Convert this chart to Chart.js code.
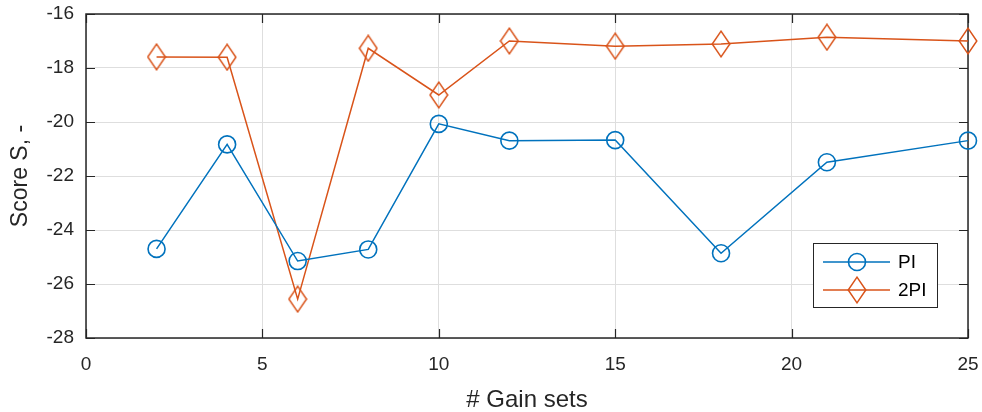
<!DOCTYPE html>
<html>
<head>
<meta charset="utf-8">
<script src="https://cdn.jsdelivr.net/npm/chart.js@4"></script>
<style>
  html, body { margin: 0; padding: 0; background: #ffffff; }
  canvas { display: block; }
</style>
</head>
<body>
<canvas id="c" width="982" height="412"></canvas>
<script>
// ---- data ----
const gainSets = [2, 4, 6, 8, 10, 12, 15, 18, 21, 25];
const scorePI = [-24.70, -20.83, -25.15, -24.72, -20.07, -20.69, -20.67, -24.86, -21.49, -20.69];
const score2PI = [-17.59, -17.60, -26.56, -17.27, -19.00, -17.00, -17.19, -17.11, -16.86, -17.00];
const seriesNames = ['PI', '2PI'];
const xTicks = [0, 5, 10, 15, 20, 25];
const yTicks = [-28, -26, -24, -22, -20, -18, -16];

const BLUE = '#0072BD';
const ORANGE = '#D95319';
const AXIS = '#262626';
const GRID = '#dedede';
const FONT = '"Liberation Sans", Arial, Helvetica, sans-serif';

function makeDiamond(color) {
  const cv = document.createElement('canvas');
  cv.width = 20; cv.height = 28;
  const g = cv.getContext('2d');
  g.strokeStyle = color;
  g.lineWidth = 1.5;
  g.beginPath();
  g.moveTo(10, 1.2);
  g.lineTo(18.8, 14);
  g.lineTo(10, 26.8);
  g.lineTo(1.2, 14);
  g.closePath();
  g.stroke();
  return cv;
}
const diamond = makeDiamond(ORANGE);

function zeroPad(s) {
  s.paddingTop = 0; s.paddingBottom = 0; s.paddingLeft = 0; s.paddingRight = 0;
}

const boxPlugin = {
  id: 'matlabBox',
  beforeDatasetsDraw(chart) {
    const {ctx, chartArea: a, scales} = chart;
    ctx.save();
    ctx.strokeStyle = AXIS;
    ctx.lineWidth = 1.2;
    const tl = 9;
    ctx.beginPath();
    scales.x.ticks.forEach(t => {
      const px = Math.round(scales.x.getPixelForValue(t.value)) + 0.5;
      ctx.moveTo(px, a.bottom); ctx.lineTo(px, a.bottom - tl);
      ctx.moveTo(px, a.top); ctx.lineTo(px, a.top + tl);
    });
    scales.y.ticks.forEach(t => {
      const py = Math.round(scales.y.getPixelForValue(t.value)) + 0.5;
      ctx.moveTo(a.left, py); ctx.lineTo(a.left + tl, py);
      ctx.moveTo(a.right, py); ctx.lineTo(a.right - tl, py);
    });
    ctx.stroke();
    ctx.lineWidth = 1.5;
    ctx.strokeRect(a.left, a.top, a.right - a.left, a.bottom - a.top);
    ctx.restore();
  },
  afterDraw(chart) {
    const {ctx, chartArea: a} = chart;
    const w = 124, h = 64;
    const x0 = a.right - 31 - w, y0 = a.bottom - 31 - h;
    ctx.save();
    ctx.fillStyle = '#ffffff';
    ctx.fillRect(x0, y0, w, h);
    ctx.strokeStyle = AXIS;
    ctx.lineWidth = 1;
    ctx.strokeRect(x0 + 0.5, y0 + 0.5, w, h);
    const rows = [y0 + 19, y0 + 47];
    chart.data.datasets.forEach((ds, i) => {
      const y = rows[i];
      ctx.strokeStyle = ds.borderColor;
      ctx.lineWidth = ds.borderWidth;
      ctx.beginPath();
      ctx.moveTo(x0 + 10, y); ctx.lineTo(x0 + 77, y);
      ctx.stroke();
      const mx = x0 + 44;
      if (ds.pointStyle === 'circle') {
        ctx.lineWidth = 1.6;
        ctx.beginPath();
        ctx.arc(mx, y, ds.pointRadius, 0, Math.PI * 2);
        ctx.stroke();
      } else {
        ctx.drawImage(ds.pointStyle, mx - ds.pointStyle.width / 2, y - ds.pointStyle.height / 2);
      }
      ctx.fillStyle = '#000000';
      ctx.font = '19px ' + FONT;
      ctx.textBaseline = 'middle';
      ctx.textAlign = 'left';
      ctx.fillText(ds.label, x0 + 85, y + 1);
    });
    ctx.restore();
  }
};

new Chart(document.getElementById('c'), {
  type: 'line',
  data: {
    datasets: [
      {
        label: seriesNames[0],
        data: gainSets.map((x, i) => ({x: x, y: scorePI[i]})),
        borderColor: BLUE,
        borderWidth: 1.5,
        pointStyle: 'circle',
        pointRadius: 8.5,
        pointHoverRadius: 8.5,
        pointBorderWidth: 1.6,
        pointBorderColor: BLUE,
        pointBackgroundColor: 'rgba(0,0,0,0)',
        fill: false,
        tension: 0,
        clip: false
      },
      {
        label: seriesNames[1],
        data: gainSets.map((x, i) => ({x: x, y: score2PI[i]})),
        borderColor: ORANGE,
        borderWidth: 1.5,
        pointStyle: diamond,
        pointRadius: 10,
        pointHoverRadius: 10,
        pointBorderColor: ORANGE,
        pointBackgroundColor: 'rgba(0,0,0,0)',
        fill: false,
        tension: 0,
        clip: false
      }
    ]
  },
  options: {
    responsive: false,
    animation: false,
    events: [],
    layout: { padding: { top: 14, right: 14, left: 0, bottom: 0 } },
    plugins: {
      legend: { display: false },
      tooltip: { enabled: false }
    },
    scales: {
      x: {
        type: 'linear',
        min: xTicks[0],
        max: xTicks[xTicks.length - 1],
        afterBuildTicks: s => { s.ticks = xTicks.map(v => ({value: v})); },
        afterFit: s => { s.height = 74; zeroPad(s); },
        grid: { color: GRID, lineWidth: 1, drawTicks: false },
        border: { display: false },
        ticks: {
          color: AXIS,
          padding: 15,
          maxRotation: 0,
          font: { family: FONT, size: 19 }
        },
        title: {
          display: true,
          text: '# Gain sets',
          color: AXIS,
          padding: { top: 0, bottom: 0 },
          font: { family: FONT, size: 24, lineHeight: 1 }
        }
      },
      y: {
        type: 'linear',
        min: yTicks[0],
        max: yTicks[yTicks.length - 1],
        afterBuildTicks: s => { s.ticks = yTicks.map(v => ({value: v})); },
        afterFit: s => { s.width = 86; zeroPad(s); },
        grid: { color: GRID, lineWidth: 1, drawTicks: false },
        border: { display: false },
        ticks: {
          color: AXIS,
          padding: 12,
          font: { family: FONT, size: 19 }
        },
        title: {
          display: true,
          text: 'Score S, -',
          color: AXIS,
          padding: { top: 7, bottom: 0 },
          font: { family: FONT, size: 23, lineHeight: 1.2 }
        }
      }
    }
  },
  plugins: [boxPlugin]
});
</script>
</body>
</html>
